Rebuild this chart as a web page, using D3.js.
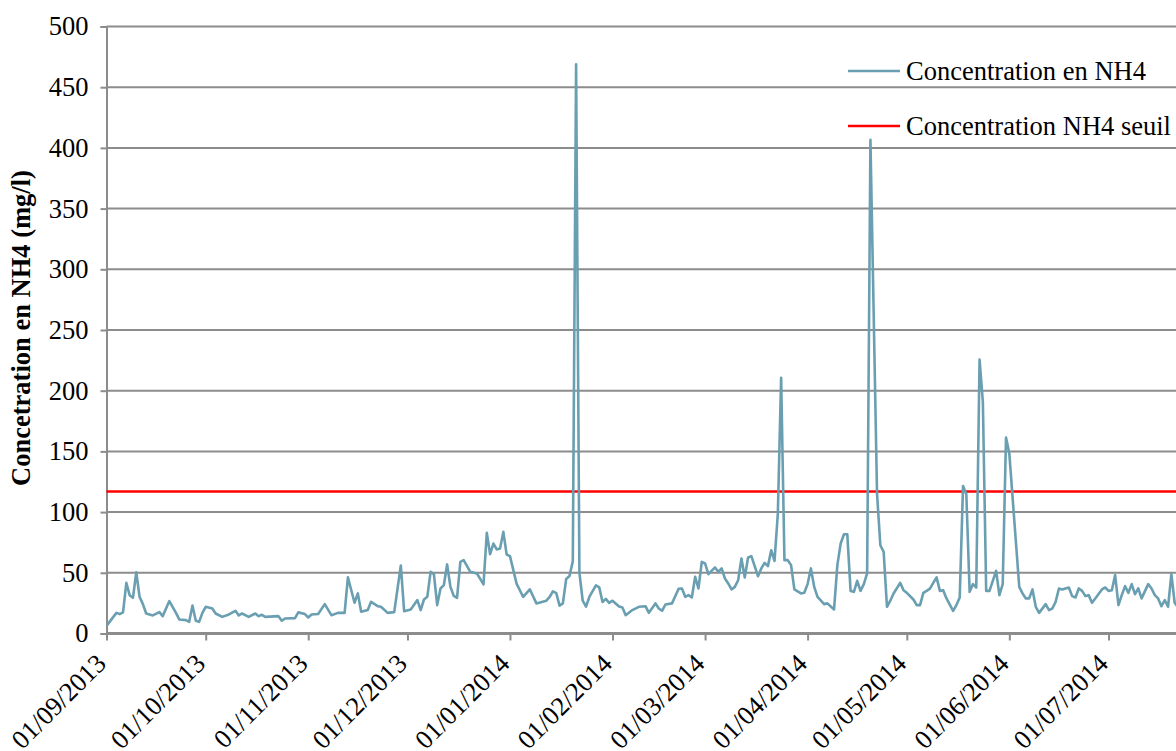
<!DOCTYPE html>
<html><head><meta charset="utf-8">
<script src="https://cdn.jsdelivr.net/npm/d3@7"></script>
<style>
html,body{margin:0;padding:0;background:#fff;}
svg{display:block;}
</style></head>
<body>
<svg id="chart" width="1176" height="751"></svg>
<script>
const dates = [
"2013-09-01","2013-09-04","2013-09-05","2013-09-06","2013-09-07","2013-09-08","2013-09-09","2013-09-10","2013-09-11","2013-09-12",
"2013-09-13","2013-09-15","2013-09-17","2013-09-18","2013-09-20","2013-09-22","2013-09-23","2013-09-25","2013-09-26","2013-09-27",
"2013-09-28","2013-09-29","2013-09-30",
"2013-10-01","2013-10-03","2013-10-04","2013-10-06","2013-10-08","2013-10-10","2013-10-11","2013-10-12","2013-10-14","2013-10-16",
"2013-10-17","2013-10-18","2013-10-19","2013-10-23","2013-10-24","2013-10-25","2013-10-28","2013-10-29","2013-10-31",
"2013-11-01","2013-11-02","2013-11-04","2013-11-06","2013-11-08","2013-11-10","2013-11-12","2013-11-13","2013-11-15","2013-11-16",
"2013-11-17","2013-11-19","2013-11-20","2013-11-22","2013-11-23","2013-11-25","2013-11-27","2013-11-29","2013-11-30",
"2013-12-02","2013-12-04","2013-12-05","2013-12-06","2013-12-07","2013-12-08","2013-12-09","2013-12-10","2013-12-11","2013-12-12",
"2013-12-13","2013-12-14","2013-12-15","2013-12-16","2013-12-17","2013-12-18","2013-12-20","2013-12-22","2013-12-24","2013-12-25",
"2013-12-26","2013-12-27","2013-12-28","2013-12-29","2013-12-30","2013-12-31",
"2014-01-01","2014-01-03","2014-01-05","2014-01-07","2014-01-09","2014-01-12","2014-01-13","2014-01-14","2014-01-15","2014-01-16",
"2014-01-17","2014-01-18","2014-01-19","2014-01-20","2014-01-21","2014-01-22","2014-01-23","2014-01-24","2014-01-25","2014-01-27",
"2014-01-28","2014-01-29","2014-01-30","2014-01-31",
"2014-02-01","2014-02-03","2014-02-04","2014-02-05","2014-02-07","2014-02-09","2014-02-11","2014-02-12","2014-02-14","2014-02-15",
"2014-02-16","2014-02-17","2014-02-19","2014-02-21","2014-02-22","2014-02-23","2014-02-24","2014-02-25","2014-02-26","2014-02-27",
"2014-02-28",
"2014-03-01","2014-03-02","2014-03-04","2014-03-05","2014-03-06","2014-03-07","2014-03-08","2014-03-09","2014-03-10","2014-03-11",
"2014-03-12","2014-03-13","2014-03-14","2014-03-15","2014-03-16","2014-03-17","2014-03-18","2014-03-19","2014-03-20","2014-03-21",
"2014-03-22","2014-03-23","2014-03-24","2014-03-25","2014-03-26","2014-03-27","2014-03-28","2014-03-30","2014-03-31",
"2014-04-01","2014-04-02","2014-04-03","2014-04-04","2014-04-06","2014-04-07","2014-04-09","2014-04-10","2014-04-11","2014-04-12",
"2014-04-13","2014-04-14","2014-04-15","2014-04-16","2014-04-17","2014-04-18","2014-04-19","2014-04-20","2014-04-22","2014-04-23",
"2014-04-24","2014-04-25","2014-04-26","2014-04-27","2014-04-29","2014-04-30",
"2014-05-01","2014-05-03","2014-05-04","2014-05-05","2014-05-06","2014-05-07","2014-05-08","2014-05-09","2014-05-10","2014-05-11",
"2014-05-12","2014-05-13","2014-05-15","2014-05-16","2014-05-17","2014-05-18","2014-05-19","2014-05-20","2014-05-21","2014-05-22",
"2014-05-23","2014-05-24","2014-05-25","2014-05-26","2014-05-28","2014-05-29","2014-05-30","2014-05-31",
"2014-06-01","2014-06-04","2014-06-05","2014-06-06","2014-06-07","2014-06-08","2014-06-09","2014-06-10","2014-06-12","2014-06-13",
"2014-06-14","2014-06-15","2014-06-16","2014-06-17","2014-06-19","2014-06-20","2014-06-21","2014-06-22","2014-06-23","2014-06-24",
"2014-06-25","2014-06-26","2014-06-27","2014-06-29","2014-06-30",
"2014-07-01","2014-07-02","2014-07-03","2014-07-04","2014-07-05","2014-07-06","2014-07-07","2014-07-08","2014-07-09","2014-07-10",
"2014-07-11","2014-07-13","2014-07-14","2014-07-15","2014-07-16","2014-07-17","2014-07-18","2014-07-19","2014-07-20","2014-07-21",
"2014-07-22"
];
const nh4 = [
6.3,17,16,17.4,41.7,31.6,29.4,50.5,30.2,24.2,
16.5,14.9,17.6,14.3,26.7,17,11.6,11,9.6,23.1,
10.5,9.6,17,
22,20.6,16.5,13.7,15.7,18.7,14.9,16.5,13.7,16.5,
14.3,15.4,13.7,14.3,10.5,12.4,12.7,17.4,16,
13.2,15.7,16,24.2,15.1,17,17,46.2,25.3,33,
17.9,19.3,26.1,22.5,22,17,17.6,56,18.4,
19.8,27.5,19.3,28,30.2,50.8,48.9,23.4,37.1,39.8,
56.9,38.4,31,29.4,59,60.4,50.8,49.5,40.4,82.9,
65.3,74.1,69.2,70,83.7,65.1,
63.7,41.1,30.1,36.4,24.8,27,30.1,34.8,33.2,22.9,
24.8,44.9,47.4,59.4,468.8,49.9,27,22.2,30.1,39.6,
38,26,28.5,25.3,
27,22.2,21.5,15.1,19.3,22,22.5,17,24.8,20.6,
18.7,23.9,24.8,36.8,37.1,30.2,31.6,29.7,46.7,37.1,
59,
57.7,48.9,54.4,50.8,53.6,45.3,41.2,36.3,38.4,43.9,
61.8,46.2,62.6,63.7,55.5,47.2,53.6,58.2,55.5,68.6,
59.8,98.8,210.7,60.4,60.4,56.3,36.3,33,33.5,
40.7,53.6,38.4,30.2,24.2,24.8,19.8,56.3,74.1,81.8,
81.8,35.1,34.3,43.4,35.1,40.7,49.5,406.6,115,72.7,
67.2,22,27,33,41.7,35.7,
33.5,28,23.4,23.4,33.5,35.1,37,41.7,46.2,35.1,
35.7,28.9,18.7,23.4,29.7,121.5,114.7,34.3,40.7,37.9,
225.6,190.7,35.1,35.1,51.6,31.6,40.7,161.4,
148.2,38.4,33,28.9,28.9,36.3,22,17,24.2,19.3,
20.6,26.1,37.1,36.3,37.9,30.8,29.7,37.1,35.1,30.8,
31.6,25.3,28.9,36.3,37.9,
35.1,35.7,48.1,23.4,31.6,39,33.5,40.7,32.4,37.1,
28.9,40.7,37.1,31.6,28.9,22.5,27.5,22,48.9,25.3,
21.5
];
const seuil = 117;
const yTicks = [0,50,100,150,200,250,300,350,400,450,500];
const xTickDates = ["2013-09-01","2013-10-01","2013-11-01","2013-12-01","2014-01-01","2014-02-01","2014-03-01","2014-04-01","2014-05-01","2014-06-01","2014-07-01"];
const seriesNames = ["Concentration en NH4","Concentration NH4 seuil"];
const yTitle = "Concetration en NH4 (mg/l)";

const parse = d3.utcParse("%Y-%m-%d");
const fmt = d3.utcFormat("%d/%m/%Y");
const data = dates.map((d,i)=>({date:parse(d), v:nh4[i]}));

const svg = d3.select("#chart");
const pLeft = 106.5, pRight = 1176, pTop = 26.5, pBottom = 633.5;
const x0 = parse("2013-09-01");
const xEnd = new Date(x0.getTime() + 323.4*86400000);
const x = d3.scaleUtc().domain([x0, xEnd]).range([pLeft, pRight]);
const y = d3.scaleLinear().domain([0,500]).range([pBottom, pTop]);

const gridCol = "#8c8c8c";
const serif = "'Liberation Serif','Times New Roman',serif";

svg.append("defs").append("clipPath").attr("id","clip")
  .append("rect").attr("x",pLeft).attr("y",0).attr("width",pRight-pLeft).attr("height",pBottom+2);

// gridlines
svg.append("g").selectAll("line").data(yTicks.filter(t=>t>0)).join("line")
  .attr("x1",pLeft).attr("x2",pRight).attr("y1",d=>y(d)).attr("y2",d=>y(d))
  .attr("stroke",gridCol).attr("stroke-width",2);

// y axis
const yAxis = svg.append("g").attr("transform",`translate(${pLeft},0)`)
  .call(d3.axisLeft(y).tickValues(yTicks).tickSize(6).tickPadding(12).tickFormat(d3.format("d")));
yAxis.select(".domain").attr("stroke",gridCol).attr("stroke-width",2);
yAxis.selectAll(".tick line").attr("stroke",gridCol).attr("stroke-width",2);
yAxis.selectAll("text").attr("font-family",serif).attr("font-size",26.5).attr("fill","#000");

// x axis
const xAxis = svg.append("g").attr("transform",`translate(0,${pBottom})`)
  .call(d3.axisBottom(x).tickValues(xTickDates.map(parse)).tickSize(7).tickFormat(fmt));
xAxis.select(".domain").attr("stroke",gridCol).attr("stroke-width",3).attr("d",`M${pLeft},0H${pRight}`);
xAxis.selectAll(".tick line").attr("stroke",gridCol).attr("stroke-width",2);
xAxis.selectAll("text")
  .attr("font-family",serif).attr("font-size",26.5).attr("fill","#000")
  .attr("text-anchor","end").attr("dy","0.35em").attr("y",0)
  .attr("transform","translate(-6,25) rotate(-45)");

// threshold line
svg.append("line").attr("x1",pLeft).attr("x2",pRight).attr("y1",y(seuil)).attr("y2",y(seuil))
  .attr("stroke","#ff0000").attr("stroke-width",2.5);

// data line
const line = d3.line().x(d=>x(d.date)).y(d=>y(d.v));
svg.append("path").datum(data).attr("clip-path","url(#clip)")
  .attr("d",line).attr("fill","none").attr("stroke","#6a9fb1").attr("stroke-width",2.6)
  .attr("stroke-linejoin","round");

// y title
svg.append("text").attr("transform","translate(30,328) rotate(-90)")
  .attr("text-anchor","middle").attr("font-family",serif).attr("font-weight","bold")
  .attr("font-size",26.5).text(yTitle);

// legend
const lg = svg.append("g");
const cols = ["#6a9fb1","#ff0000"];
[71,126].forEach((ly,i)=>{
  lg.append("line").attr("x1",848).attr("x2",900).attr("y1",ly).attr("y2",ly)
    .attr("stroke",cols[i]).attr("stroke-width",2.5);
  lg.append("text").attr("x",906).attr("y",ly).attr("dy","0.35em")
    .attr("font-family",serif).attr("font-size",26.5).attr("fill","#000").text(seriesNames[i]);
});
</script>
</body></html>
